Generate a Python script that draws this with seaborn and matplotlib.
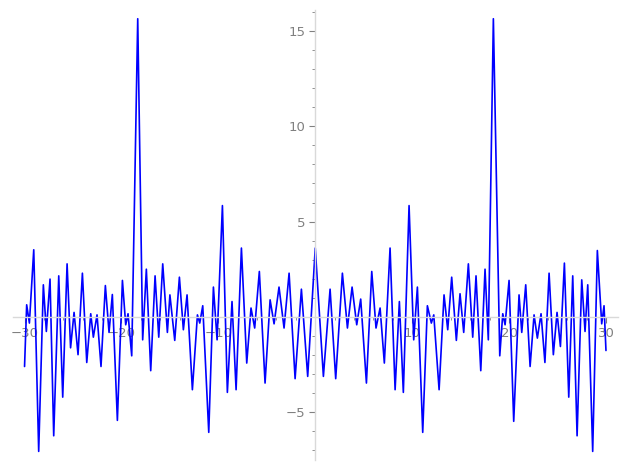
import matplotlib
matplotlib.use("Agg")
import matplotlib.pyplot as plt
import matplotlib.ticker as mticker
import seaborn as sns
import pandas as pd

# Curve samples (local extrema)
x_vals = [
    -30.0, -29.78, -29.50, -29.05, -28.54, -28.06, -27.75, -27.37, -26.99, -26.47,
    -26.06, -25.61, -25.25, -24.89, -24.48, -24.03, -23.58, -23.17, -22.90, -22.52,
    -22.11, -21.66, -21.28, -20.94, -20.42, -19.90, -19.56, -19.32, -18.94, -18.32,
    -17.81, -17.43, -16.98, -16.53, -16.15, -15.74, -15.26, -15.0, -14.50, -14.02,
    -13.61, -13.23, -12.68, -12.16, -11.92, -11.61, -10.99, -10.51, -10.13, -9.58,
    -9.07, -8.59, -8.17, -7.62, -7.07, -6.63, -6.25, -5.77, -5.18, -4.66,
    -4.25, -3.74, -3.22, -2.70, -2.08, -1.43, -0.78, 0.0,
    0.84, 1.53, 2.11, 2.80, 3.32, 3.80, 4.28, 4.69, 5.28, 5.83,
    6.27, 6.69, 7.13, 7.72, 8.24, 8.68, 9.09, 9.68, 10.16, 10.54,
    11.09, 11.57, 11.98, 12.23, 12.78, 13.29, 13.67, 14.08, 14.56, 14.94,
    15.32, 15.80, 16.25, 16.59, 17.08, 17.52, 17.86, 18.38, 19.04, 19.35,
    19.59, 20.00, 20.48, 21.03, 21.31, 21.72, 22.17, 22.58, 22.92, 23.30,
    23.70, 24.13, 24.57, 24.95, 25.30, 25.71, 26.16, 26.57, 27.02, 27.50,
    27.84, 28.12, 28.63, 29.11, 29.56, 29.80, 30.0,
]
y_vals = [
    -2.61, 0.63, -0.33, 3.52, -7.07, 1.68, -0.77, 1.98, -6.25, 2.15,
    -4.22, 2.78, -1.63, 0.23, -1.99, 2.29, -2.40, 0.16, -1.07, 0.10,
    -2.61, 1.64, -0.82, 1.17, -5.44, 1.91, -0.42, 0.16, -2.05, 15.65,
    -1.21, 2.50, -2.83, 2.15, -1.07, 2.78, -0.82, 1.15, -1.24, 2.08,
    -0.68, 1.15, -3.83, 0.10, -0.33, 0.58, -6.07, 1.56, -1.21, 5.84,
    -3.97, 0.80, -3.83, 3.61, -2.43, 0.46, -0.59, 2.38, -3.48, 0.89,
    -0.37, 1.56, -0.59, 2.29, -3.25, 1.45, -3.13, 3.61,
    -3.13, 1.45, -3.25, 2.29, -0.59, 1.56, -0.42, 0.93, -3.48, 2.38,
    -0.59, 0.46, -2.43, 3.61, -3.83, 0.80, -3.97, 5.84, -1.21, 1.56,
    -6.07, 0.58, -0.33, 0.10, -3.83, 1.15, -0.68, 2.08, -1.24, 1.21,
    -0.82, 2.78, -1.07, 2.15, -2.83, 2.50, -1.21, 15.65, -2.05, 0.16,
    -0.42, 1.91, -5.49, 1.15, -0.82, 1.68, -2.61, 0.10, -1.12, 0.16,
    -2.40, 2.29, -1.99, 0.23, -1.56, 2.82, -4.22, 2.15, -6.25, 1.94,
    -0.77, 1.68, -7.07, 3.48, -0.37, 0.58, -1.77,
]

x_major = [-30, -20, -10, 10, 20, 30]
y_major = [-5, 5, 10, 15]

df = pd.DataFrame({"x": x_vals, "y": y_vals})

sns.set_style("white")
fig = plt.figure(figsize=(6.27, 4.70), dpi=100)
ax = fig.add_axes([0.0206, 0.0213, 0.9644, 0.9574])

sns.lineplot(data=df, x="x", y="y", color="#0000ff", linewidth=1.2,
             estimator=None, sort=False, ax=ax)

ax.set_xlim(-31.2, 31.2)
ax.set_ylim(-7.52, 16.11)
ax.set_xlabel("")
ax.set_ylabel("")

for s in ["top", "right"]:
    ax.spines[s].set_visible(False)
ax.spines["left"].set_position(("data", 0))
ax.spines["bottom"].set_position(("data", 0))
for s in ["left", "bottom"]:
    ax.spines[s].set_color("#d9d9d9")
    ax.spines[s].set_linewidth(1.0)

ax.xaxis.set_major_locator(mticker.FixedLocator(x_major))
ax.yaxis.set_major_locator(mticker.FixedLocator(y_major))
ax.xaxis.set_minor_locator(mticker.MultipleLocator(2))
ax.yaxis.set_minor_locator(mticker.MultipleLocator(1))

ax.tick_params(axis="both", which="major", direction="out", length=4,
               width=0.8, color="#808080", labelcolor="#808080",
               labelsize=9.5, pad=3)
ax.tick_params(axis="both", which="minor", direction="out", length=2,
               width=0.6, color="#808080")
ax.xaxis.set_ticks_position("bottom")
ax.yaxis.set_ticks_position("left")

fig.savefig("out.png", dpi=100)
